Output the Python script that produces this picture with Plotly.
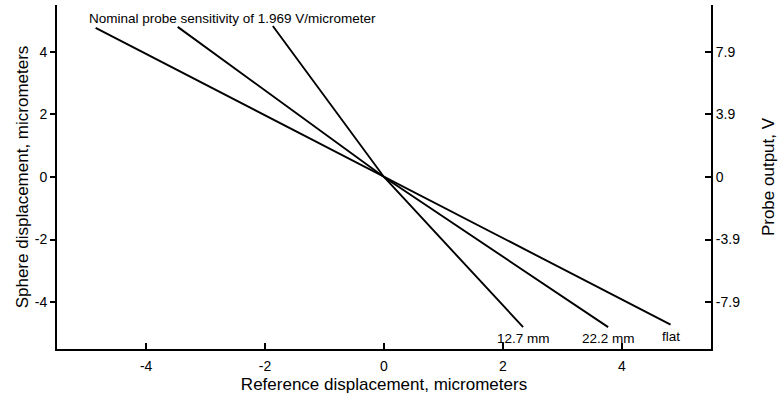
import plotly.graph_objects as go

# ---- data ----
sensitivity = 1.969  # V per micrometer (nominal)
series_names = ["12.7 mm", "22.2 mm", "flat"]
x_12_7 = [-1.87, 0.0, 2.34]
y_12_7 = [4.83, 0.0, -4.80]
x_22_2 = [-3.47, 0.0, 3.77]
y_22_2 = [4.80, 0.0, -4.80]
x_flat = [-4.85, 0.0, 4.82]
y_flat = [4.77, 0.0, -4.72]

x_ticks = [-4, -2, 0, 2, 4]
x_ticktext = ["-4", "-2", "0", "2", "4"]
y_ticks = [-4, -2, 0, 2, 4]
y_ticktext = ["-4", "-2", "0", "2", "4"]
y2_ticktext = ["-7.9", "-3.9", "0", "3.9", "7.9"]
y2_tickvals = [v * sensitivity for v in y_ticks]

FONT = "Arial, Liberation Sans, sans-serif"

fig = go.Figure()
for name, xs, ys in [("12.7 mm", x_12_7, y_12_7), ("22.2 mm", x_22_2, y_22_2), ("flat", x_flat, y_flat)]:
    fig.add_trace(go.Scatter(x=xs, y=ys, mode="lines", name=name,
                             line=dict(color="black", width=1.9), showlegend=False,
                             hoverinfo="skip"))
# invisible trace on the secondary (probe output) axis
fig.add_trace(go.Scatter(x=x_flat, y=[v * sensitivity for v in y_flat], yaxis="y2",
                         mode="lines", line=dict(width=0, color="rgba(0,0,0,0)"),
                         showlegend=False, hoverinfo="skip"))

# labels at line ends
for name, xs, ys, dy in [("12.7 mm", x_12_7, y_12_7, -11), ("22.2 mm", x_22_2, y_22_2, -11), ("flat", x_flat, y_flat, -12)]:
    fig.add_annotation(x=xs[-1], y=ys[-1], text=name, showarrow=False, yshift=dy,
                       font=dict(family=FONT, size=13.5, color="black"))

fig.add_annotation(x=-2.55, y=5.07, text="Nominal probe sensitivity of 1.969 V/micrometer",
                   showarrow=False, font=dict(family=FONT, size=13.5, color="black"))

axis_common = dict(showgrid=False, zeroline=False, showline=True, linecolor="black",
                   linewidth=2, tickcolor="black", tickwidth=1.5, automargin=False,
                   tickfont=dict(family=FONT, size=14, color="black"))

fig.update_layout(
    width=778, height=401,
    margin=dict(l=57, r=67, t=5, b=52),
    paper_bgcolor="white", plot_bgcolor="white",
    font=dict(family=FONT, color="black"),
    xaxis=dict(range=[-5.5, 5.5], tickvals=x_ticks, ticktext=x_ticktext, ticks="inside", ticklen=6,
               ticklabelstandoff=3,
               title=dict(text="Reference displacement, micrometers",
                          font=dict(family=FONT, size=17, color="black"), standoff=5),
               **axis_common),
    yaxis=dict(range=[-5.5, 5.5], tickvals=y_ticks, ticktext=y_ticktext, ticks="outside", ticklen=5,
               title=dict(text="Sphere displacement, micrometers",
                          font=dict(family=FONT, size=17, color="black"), standoff=2),
               **axis_common),
    yaxis2=dict(range=[-5.5 * sensitivity, 5.5 * sensitivity], overlaying="y", side="right",
                tickvals=y2_tickvals, ticktext=y2_ticktext, ticks="inside", ticklen=6,
                title=dict(text="Probe output, V",
                           font=dict(family=FONT, size=17, color="black"), standoff=26),
                **axis_common),
)

fig.write_html("out.html")
